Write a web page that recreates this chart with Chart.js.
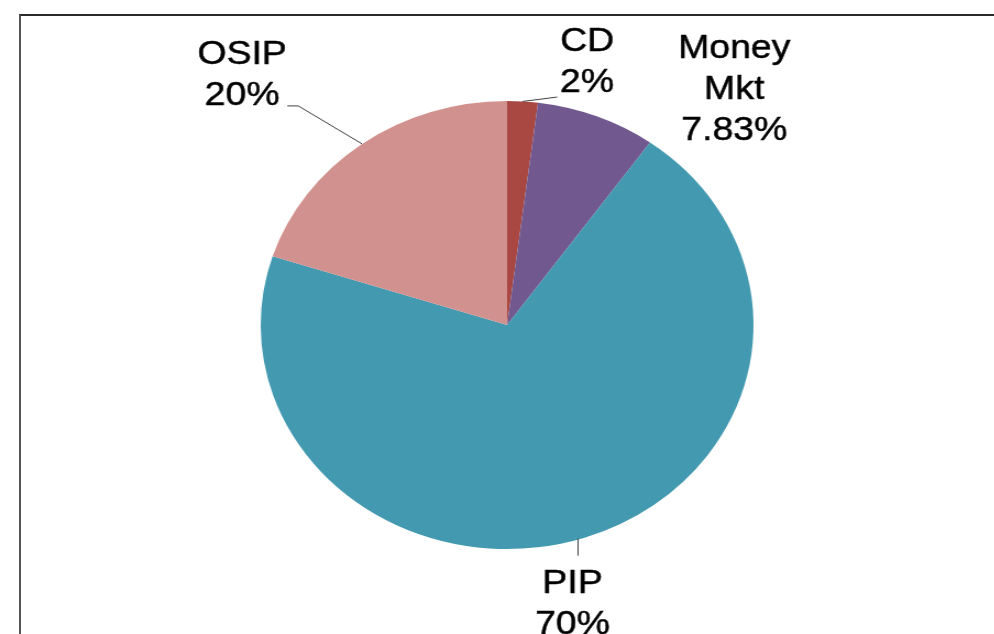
<!DOCTYPE html>
<html>
<head>
<meta charset="utf-8">
<script src="https://cdn.jsdelivr.net/npm/chart.js@4.4.1/dist/chart.umd.min.js"></script>
<style>
  html, body { margin: 0; padding: 0; background: #fff; }
  body { width: 994px; height: 634px; overflow: hidden; position: relative; }
  #frame { position: absolute; left: 19px; top: 14px; width: 1000px; height: 700px;
           border-top: 2px solid #2b2b2b; border-left: 2px solid #555; }
  /* the original pie is a bit wider than tall, so the whole canvas is stretched */
  #wrap { position: absolute; left: 0; top: 0; width: 904px; height: 634px;
          transform: scaleX(1.1); transform-origin: 0 0; }
</style>
</head>
<body>
<div id="frame"></div>
<div id="wrap"><canvas id="myChart" width="904" height="634"></canvas></div>
<script>
// data
const categories = ['CD', 'Money Mkt', 'PIP', 'OSIP'];
const shares = [2, 7.83, 70, 20];
const sliceColors = ['#a94743', '#71598f', '#4399b0', '#d1918e'];

// label block centre, relative to the slice's outer mid point
const labelShift = [[58.6, -42], [125, -29], [-11, 64], [-109, -71]];
// leader lines, relative to the slice's outer mid point
const leaders = [
  [[0, 0], [31.5, -4.4]],
  null,
  [[-6, 1], [-6, 18]],
  [[0, 0], [-58, -38], [-68, -38]]
];

const sliceLabels = {
  id: 'sliceLabels',
  afterDatasetsDraw(chart) {
    const ctx = chart.ctx;
    const meta = chart.getDatasetMeta(0);
    ctx.save();
    ctx.font = '34px "Liberation Sans", Arial, sans-serif';
    ctx.fillStyle = '#000';
    ctx.textAlign = 'center';
    ctx.textBaseline = 'alphabetic';
    const lh = 41, cap = 24;
    meta.data.forEach((arc, i) => {
      const p = arc.getProps(['x', 'y', 'startAngle', 'endAngle', 'outerRadius'], true);
      const mid = (p.startAngle + p.endAngle) / 2;
      const ax = p.x + Math.cos(mid) * p.outerRadius;
      const ay = p.y + Math.sin(mid) * p.outerRadius;

      if (leaders[i]) {
        ctx.strokeStyle = '#404040';
        ctx.lineWidth = 1;
        ctx.beginPath();
        leaders[i].forEach(([dx, dy], k) => {
          if (k === 0) ctx.moveTo(ax + dx, ay + dy);
          else ctx.lineTo(ax + dx, ay + dy);
        });
        ctx.stroke();
      }

      const lines = categories[i].split(' ').concat(shares[i] + '%');
      const cx = ax + labelShift[i][0];
      const cy = ay + labelShift[i][1];
      const top = cy - ((lines.length - 1) * lh + cap) / 2;
      ctx.strokeStyle = '#000';
      ctx.lineWidth = 0.5;
      lines.forEach((t, k) => {
        ctx.fillText(t, cx, top + cap + k * lh);
        ctx.strokeText(t, cx, top + cap + k * lh);
      });
    });
    ctx.restore();
  }
};

const ctx = document.getElementById('myChart').getContext('2d');
new Chart(ctx, {
  type: 'pie',
  data: {
    labels: categories,
    datasets: [{
      data: shares,
      backgroundColor: sliceColors,
      borderWidth: 0
    }]
  },
  options: {
    responsive: false,
    devicePixelRatio: 1,
    animation: false,
    layout: { padding: { top: 101, bottom: 85, left: 237, right: 219 } },
    plugins: {
      legend: { display: false },
      tooltip: { enabled: false }
    }
  },
  plugins: [sliceLabels]
});
</script>
</body>
</html>
